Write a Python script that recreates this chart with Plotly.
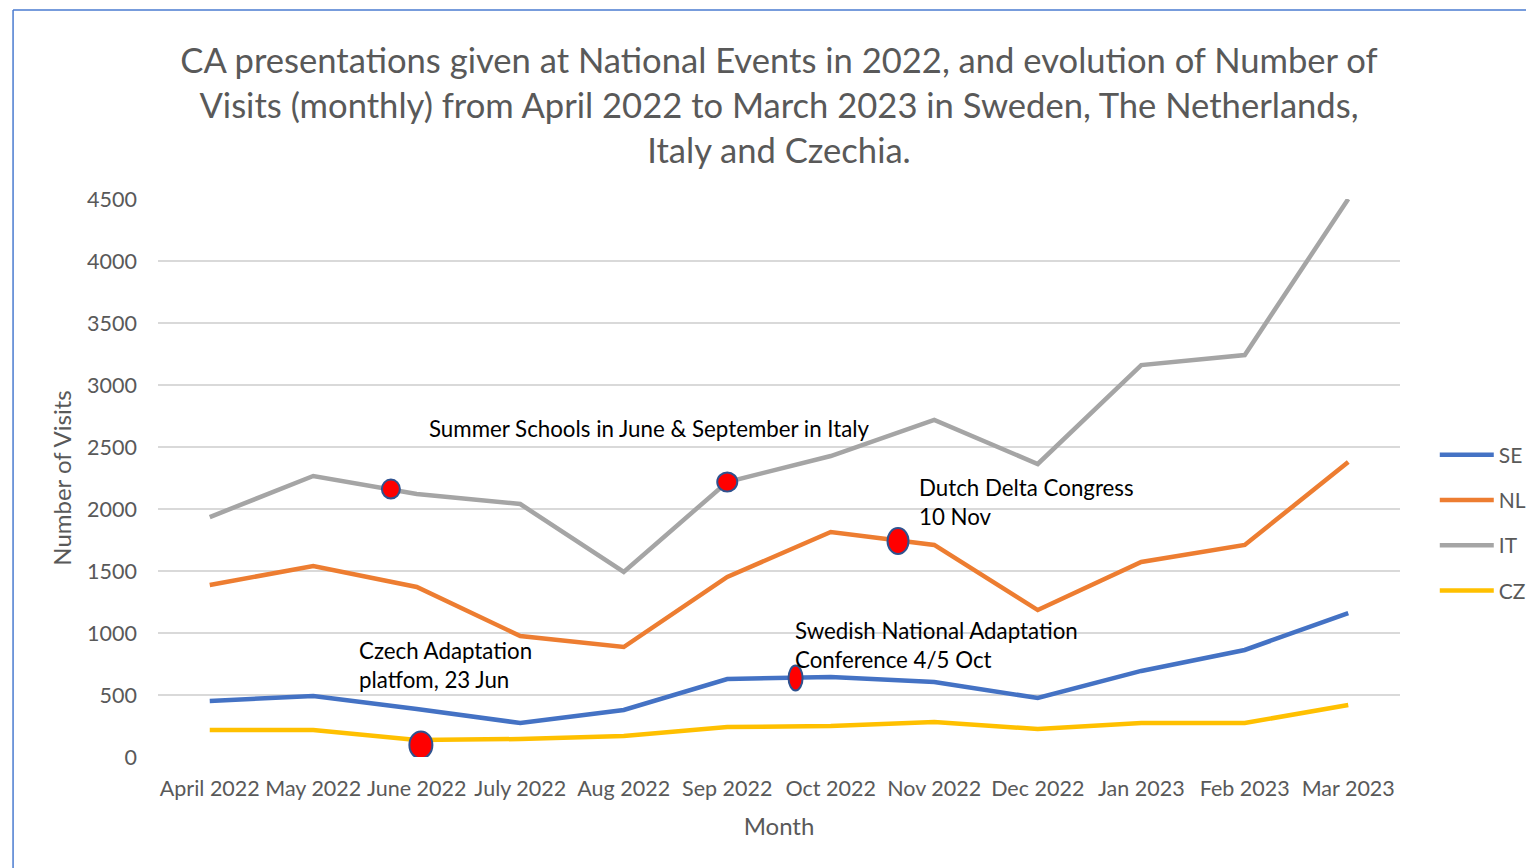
import plotly.graph_objects as go

# Monthly visits per country
months = ["April 2022", "May 2022", "June 2022", "July 2022", "Aug 2022", "Sep 2022",
          "Oct 2022", "Nov 2022", "Dec 2022", "Jan 2023", "Feb 2023", "Mar 2023"]
se = [452, 492, 387, 274, 379, 629, 645, 605, 476, 694, 863, 1161]
nl = [1387, 1540, 1371, 976, 887, 1452, 1815, 1710, 1185, 1573, 1710, 2379]
it = [1935, 2266, 2121, 2040, 1492, 2218, 2427, 2718, 2363, 3161, 3242, 4500]
cz = [218, 218, 137, 145, 169, 242, 250, 282, 226, 274, 274, 419]

# National events: position along the month axis (index) and the value where they sit
event_pos = [1.75, 5.0, 6.65, 5.66, 2.04]
event_val = [2161, 2218, 1742, 637, 97]
event_size = [(18, 19), (20, 19), (21, 26), (14, 25), (23, 27)]

# Event captions
label_text = ["Summer Schools in June & September in Italy",
              "Dutch Delta Congress<br>10 Nov",
              "Swedish National Adaptation<br>Conference 4/5 Oct",
              "Czech Adaptation<br>platfom, 23 Jun"]
label_pos = [2.10, 6.83, 5.635, 1.425]
label_val = [2652, 2055, 903, 742]

FONT = "Lato"
GREY = "#595959"

series = [("SE", se, "#4472C4"), ("NL", nl, "#ED7D31"),
          ("IT", it, "#A5A5A5"), ("CZ", cz, "#FFC000")]

fig = go.Figure()
for name, vals, color in series:
    fig.add_trace(go.Scatter(
        x=months, y=vals, mode="lines", name=name, legendgroup=name,
        line=dict(color=color, width=4.5),
    ))

shapes = []
for p, v, (w, h) in zip(event_pos, event_val, event_size):
    shapes.append(dict(
        type="circle", xref="x", yref="y",
        xsizemode="pixel", ysizemode="pixel",
        xanchor=p, yanchor=v,
        x0=-w / 2, x1=w / 2, y0=-h / 2, y1=h / 2,
        fillcolor="#FF0000", line=dict(color="#2F528F", width=2),
        layer="above",
    ))

# Chart frame (left and top edges)
shapes.append(dict(type="line", xref="paper", yref="paper",
                   x0=-0.1167, x1=-0.1167, y0=1.3387, y1=-0.25,
                   line=dict(color="#4A7BD0", width=1.5)))
shapes.append(dict(type="line", xref="paper", yref="paper",
                   x0=-0.1167, x1=1.2, y0=1.3387, y1=1.3387,
                   line=dict(color="#4A7BD0", width=1.5)))

annotations = []
for t, p, v in zip(label_text, label_pos, label_val):
    annotations.append(dict(
        x=p, y=v, xref="x", yref="y", text=t, showarrow=False,
        xanchor="left", yanchor="middle", align="left",
        font=dict(family=FONT, size=22.3, color="#000000"),
    ))

fig.update_layout(
    width=1526, height=868,
    margin=dict(l=158, r=126, t=199, b=111, autoexpand=False),
    paper_bgcolor="white", plot_bgcolor="white",
    title=dict(
        text="CA presentations given at National Events in 2022, and evolution of Number of<br>"
             "Visits (monthly) from April 2022 to March 2023 in Sweden, The Netherlands,<br>"
             "Italy and Czechia.",
        x=0.5, xref="paper", y=1 - 73 / 868, yref="container",
        xanchor="center", yanchor="middle",
        font=dict(family=FONT, size=34.6, color=GREY),
    ),
    xaxis=dict(
        type="category", categoryorder="array", categoryarray=months,
        range=[-0.5, 11.5], showgrid=False, zeroline=False, showline=False,
        tickfont=dict(family=FONT, size=21.5, color=GREY), ticks="",
        ticklabelstandoff=16,
        title=dict(text="Month", font=dict(family=FONT, size=24, color=GREY), standoff=18),
    ),
    yaxis=dict(
        range=[0, 4500], dtick=500, showgrid=True, gridcolor="#D9D9D9", gridwidth=1.5,
        zeroline=False, showline=False, ticks="",
        tickfont=dict(family=FONT, size=21.5, color=GREY),
        ticklabelstandoff=20,
        title=dict(text="Number of Visits", font=dict(family=FONT, size=24, color=GREY), standoff=8),
    ),
    legend=dict(
        x=1.028, y=0.578, xanchor="left", yanchor="top",
        font=dict(family=FONT, size=21, color=GREY),
        itemwidth=54, tracegroupgap=15, traceorder="grouped",
        bgcolor="rgba(0,0,0,0)",
    ),
    shapes=shapes,
    annotations=annotations,
)

fig.write_html("out.html")
